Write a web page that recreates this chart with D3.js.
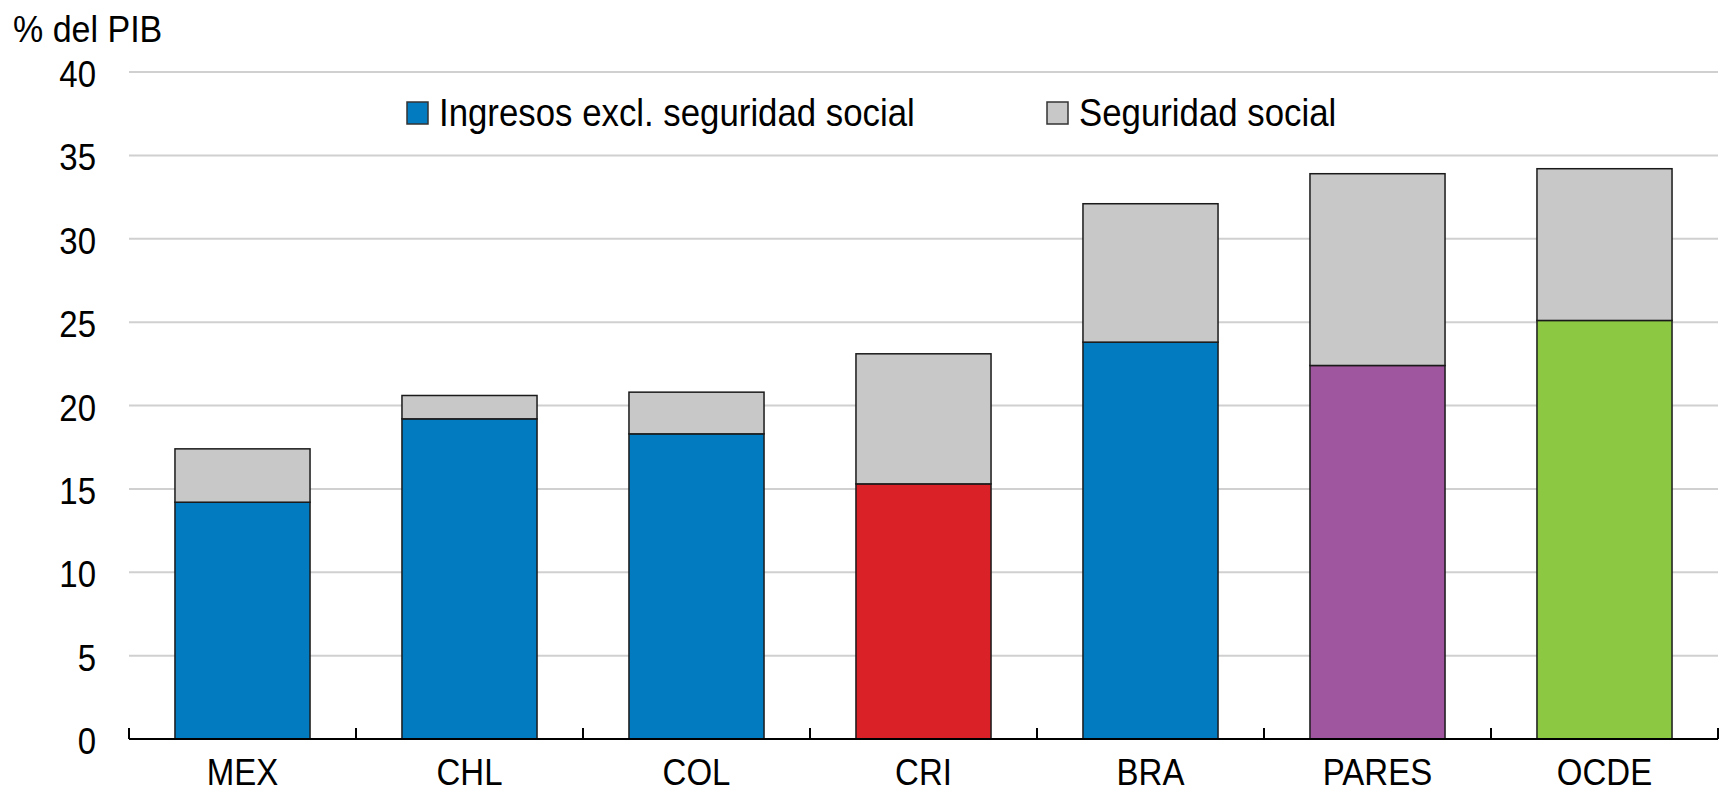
<!DOCTYPE html>
<html>
<head>
<meta charset="utf-8">
<script src="https://cdn.jsdelivr.net/npm/d3@7"></script>
<style>
  body { margin: 0; background: #fff; }
  svg text { font-family: "Liberation Sans", Arial, sans-serif; fill: #000; }
</style>
</head>
<body>
<script>
// data
var categories = ["MEX", "CHL", "COL", "CRI", "BRA", "PARES", "OCDE"];
var ingresos = [14.2, 19.2, 18.3, 15.3, 23.8, 22.4, 25.1];
var seguridad = [3.2, 1.4, 2.5, 7.8, 8.3, 11.5, 9.1];
var baseColors = ["#037bc1", "#037bc1", "#037bc1", "#da2128", "#037bc1", "#a0559f", "#8cc841"];
var yTicks = [0, 5, 10, 15, 20, 25, 30, 35, 40];
var seriesNames = ["Ingresos excl. seguridad social", "Seguridad social"];
var seriesColors = ["#037bc1", "#c8c8c8"];

var width = 1720, height = 792;
var plotLeft = 129, plotRight = 1718, plotTop = 72, plotBottom = 739;
var stretch = 1.1; // the original text is a bit taller than plain Arial

var svg = d3.select("body").append("svg")
  .attr("width", width)
  .attr("height", height);

// stretch a text vertically around its own anchor point
function tall(sel) {
  sel.attr("transform", function() {
    var t = d3.select(this), tx = +t.attr("x") || 0, ty = +t.attr("y") || 0;
    return "translate(" + tx + "," + ty + ") scale(1," + stretch + ") translate(" + (-tx) + "," + (-ty) + ")";
  });
}

var x = d3.scaleBand()
  .domain(categories)
  .range([plotLeft, plotRight])
  .paddingInner(0.405)
  .paddingOuter(0.2025);

var y = d3.scaleLinear()
  .domain([0, 40])
  .range([plotBottom, plotTop]);

// gridlines
svg.append("g").selectAll("line")
  .data(yTicks.filter(function(d) { return d > 0; }))
  .join("line")
  .attr("x1", plotLeft).attr("x2", plotRight)
  .attr("y1", function(d) { return y(d); })
  .attr("y2", function(d) { return y(d); })
  .attr("stroke", "#d0d0d0")
  .attr("stroke-width", 2);

// y labels
var yAxis = svg.append("g")
  .attr("transform", "translate(" + 96 + ",0)")
  .call(d3.axisLeft(y).tickValues(yTicks).tickSize(0).tickPadding(0));
yAxis.select(".domain").remove();
yAxis.selectAll("text")
  .attr("font-size", 33)
  .attr("font-family", "Liberation Sans, Arial, sans-serif")
  .attr("fill", "#000")
  .attr("dy", "0.4em")
  .attr("transform", "scale(1," + stretch + ")");

svg.append("text")
  .attr("x", 13).attr("y", 42)
  .attr("font-size", 34)
  .text("% del PIB")
  .call(tall);

// stacked bars
var g = svg.append("g");
categories.forEach(function(c, i) {
  g.append("rect")
    .attr("x", x(c))
    .attr("width", x.bandwidth())
    .attr("y", y(ingresos[i]))
    .attr("height", y(0) - y(ingresos[i]))
    .attr("fill", baseColors[i])
    .attr("stroke", "#1a1a1a")
    .attr("stroke-width", 1.5);
  g.append("rect")
    .attr("x", x(c))
    .attr("width", x.bandwidth())
    .attr("y", y(ingresos[i] + seguridad[i]))
    .attr("height", y(ingresos[i]) - y(ingresos[i] + seguridad[i]))
    .attr("fill", seriesColors[1])
    .attr("stroke", "#1a1a1a")
    .attr("stroke-width", 1.5);
});

// x axis line and separators
svg.append("line")
  .attr("x1", plotLeft).attr("x2", plotRight)
  .attr("y1", plotBottom).attr("y2", plotBottom)
  .attr("stroke", "#000").attr("stroke-width", 2);

svg.append("g").selectAll("line")
  .data(d3.range(categories.length + 1))
  .join("line")
  .attr("x1", function(d) { return plotLeft + d * x.step(); })
  .attr("x2", function(d) { return plotLeft + d * x.step(); })
  .attr("y1", plotBottom).attr("y2", plotBottom - 11)
  .attr("stroke", "#000").attr("stroke-width", 2);

svg.append("g").selectAll("text")
  .data(categories)
  .join("text")
  .attr("x", function(d) { return x(d) + x.bandwidth() / 2; })
  .attr("y", 785)
  .attr("text-anchor", "middle")
  .attr("font-size", 33)
  .text(function(d) { return d; })
  .call(tall);

// legend
var legendX = [407, 1047];
seriesNames.forEach(function(name, i) {
  svg.append("rect")
    .attr("x", legendX[i]).attr("y", 102)
    .attr("width", 21).attr("height", 22)
    .attr("fill", seriesColors[i])
    .attr("stroke", "#333").attr("stroke-width", 1.5);
  svg.append("text")
    .attr("x", legendX[i] + 32).attr("y", 126)
    .attr("font-size", 34.8)
    .text(name)
    .call(tall);
});
</script>
</body>
</html>
